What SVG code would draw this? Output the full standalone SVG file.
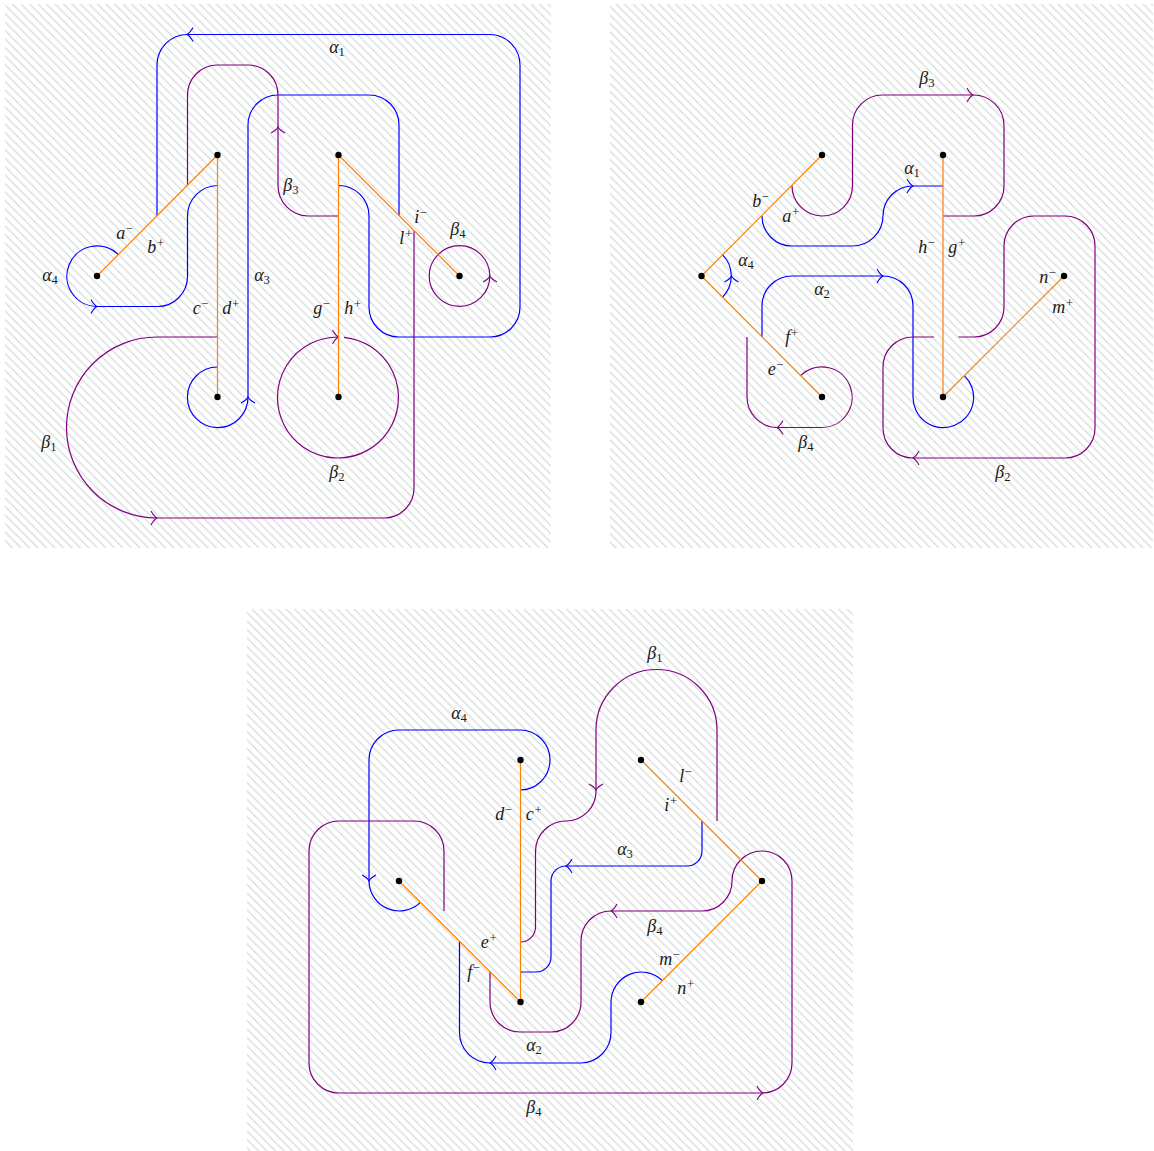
<svg xmlns="http://www.w3.org/2000/svg" width="1154" height="1151" viewBox="0 0 1154 1151">
<style>
.c{fill:none;stroke-width:1.2;stroke-linecap:butt}
.b{stroke:#0000ff}
.p{stroke:#800080}
.o{fill:none;stroke:#ff8000;stroke-width:1.2}
.d{fill:#000}
text{font-family:"Liberation Serif","Times New Roman",serif;font-style:italic;font-size:18px;fill:#1a1a1a;text-anchor:middle}
.s{font-size:12.6px}
.n{font-style:normal}
</style>
<defs>
<pattern id="h" patternUnits="userSpaceOnUse" width="8.500" height="8.500">
<path d="M-2,-2L10.500,10.500M-2,6.500L2,10.500M6.500,-2L10.500,2" stroke="#d6dada" stroke-width="1.2" fill="none"/>
</pattern>
<path id="a" d="M-6,-7Q-3,-1.500 0,0Q-3,1.500 -6,7" fill="none" stroke-width="1.1"/>
</defs>
<rect id="panel1" x="5" y="4" width="546" height="544" fill="url(#h)"/>
<rect id="panel2" x="610" y="4" width="543" height="544" fill="url(#h)"/>
<rect id="panel3" x="247" y="609" width="606" height="542" fill="url(#h)"/>
<g id="connectors">
<path class="c b" d="M157,216V65A30.5,30.5 0 0 1 187.5,34.500H490A30.500,30.500 0 0 1 520,65V307A30,30 0 0 1 490,337H399A30,30 0 0 1 369,307V216A30.500,30.500 0 0 0 338.500,185.500"/>
<use href="#a" class="b" transform="translate(187,34.500) rotate(180)"/>
<path class="c b" d="M118.400,254.600A30.300,30.300 0 1 0 97,306.500H157A30,30 0 0 0 187.500,276V216A30.500,30.500 0 0 1 217.500,185.500"/>
<use href="#a" class="b" transform="translate(97,306.500)"/>
<path class="c b" d="M217.500,367A30.300,30.300 0 1 0 248,397V125A30,30 0 0 1 278,95H369A30,30 0 0 1 399,125V216"/>
<use href="#a" class="b" transform="translate(248,397) rotate(-90)"/>
<path class="c p" d="M187.500,185.500V95A30,30 0 0 1 217.500,65H248A30,30 0 0 1 278,95V185.500A30.500,30.500 0 0 0 308,216H338.500"/>
<use href="#a" class="p" transform="translate(278,127) rotate(-90)"/>
<path class="c p" d="M217.500,337H157A90.500,90.500 0 0 0 157,518H384A30,30 0 0 0 414,488V231"/>
<use href="#a" class="p" transform="translate(157,518)"/>
<path class="c p" d="M344,337.300A60.500,60.500 0 1 1 338.500,337"/>
<use href="#a" class="p" transform="translate(338.500,337)"/>
<circle class="c p" cx="459.500" cy="276" r="30.300"/>
<use href="#a" class="p" transform="translate(490,276) rotate(-90)"/>
<path class="o" d="M97,276L217.500,155V397M338.500,397V155L459.500,276"/>

<path class="c p" d="M792,185.500A30,30 0 0 0 852.500,186V125A30,30 0 0 1 883,95H973A30.500,30.500 0 0 1 1004,125V186A30,30 0 0 1 974,216H943"/>
<use href="#a" class="p" transform="translate(973,95)"/>
<path class="c b" d="M762,216A30,30 0 0 0 792,246H852A30.500,30.500 0 0 0 883,216A30,30 0 0 1 913,186H943"/>
<use href="#a" class="b" transform="translate(913,186)"/>
<path class="c b" d="M722.400,254.600A30.300,30.300 0 0 1 722.400,297.400"/>
<use href="#a" class="b" transform="translate(731.500,276) rotate(-90)"/>
<path class="c b" d="M762,337V306A30,30 0 0 1 792,276H883A30,30 0 0 1 913,306V397A30.300,30.300 0 1 0 964.400,375.600"/>
<use href="#a" class="b" transform="translate(883,276)"/>
<path class="c p" d="M747,337V397A30.500,30.500 0 0 0 777,427.500H822A30.300,30.300 0 1 0 800.600,375.600"/>
<use href="#a" class="p" transform="translate(777,427.500) rotate(180)"/>
<path class="c p" d="M958.500,337H974A30,30 0 0 0 1004,307V246A30,30 0 0 1 1034,216H1065A30,30 0 0 1 1095,246V428A30,30 0 0 1 1065,458H913A30,30 0 0 1 883,428V367A30,30 0 0 1 913,337H934"/>
<use href="#a" class="p" transform="translate(913,458) rotate(180)"/>
<path class="o" d="M822,155L701.500,276L822,397M943,155V397L1064,276"/>

<path class="c b" d="M520,790A30,30 0 0 0 520,730H399A30,30 0 0 0 369,760V881A30.300,30.300 0 0 0 420.400,902.400"/>
<use href="#a" class="b" transform="translate(369,881) rotate(90)"/>
<path class="c p" d="M444,911V851A30,30 0 0 0 414,821H339A30,30 0 0 0 309,851V1063A30,30 0 0 0 339,1093H762A30,30 0 0 0 792,1063V881A30,30 0 0 0 732,881A30,30 0 0 1 702,911H611A30,30 0 0 0 581,941V1002A30,30 0 0 1 551,1032H520A30,30 0 0 1 490,1002V972"/>
<use href="#a" class="p" transform="translate(763,1093)"/>
<use href="#a" class="p" transform="translate(611,911) rotate(180)"/>
<path class="c p" d="M717,821V730A60.500,60.500 0 0 0 596,730V790A30,30 0 0 1 566,821A30.500,30.500 0 0 0 535.500,851V927A15,15 0 0 1 520.500,942"/>
<use href="#a" class="p" transform="translate(596,790) rotate(90)"/>
<path class="c b" d="M702,821V851A15,15 0 0 1 687,866H566A15,15 0 0 0 551,881V957A15,15 0 0 1 536,972H520.500"/>
<use href="#a" class="b" transform="translate(566,866) rotate(180)"/>
<path class="c b" d="M662.400,980.600A30.300,30.300 0 0 0 611,1002V1032A30.500,30.500 0 0 1 581,1063H490A30.500,30.500 0 0 1 459.500,1032V942"/>
<use href="#a" class="b" transform="translate(490,1063) rotate(180)"/>
<path class="o" d="M641,760L762,881L641,1002M520.500,760V1002L399,881"/>
</g>
<g id="nodes">
<g id="n1"><circle class="d" cx="97" cy="276" r="3.200"/></g>
<g id="n2"><circle class="d" cx="217.500" cy="155" r="3.200"/></g>
<g id="n3"><circle class="d" cx="338.500" cy="155" r="3.200"/></g>
<g id="n4"><circle class="d" cx="459.500" cy="276" r="3.200"/></g>
<g id="n5"><circle class="d" cx="217.500" cy="397" r="3.200"/></g>
<g id="n6"><circle class="d" cx="338.500" cy="397" r="3.200"/></g>
<g id="n7"><circle class="d" cx="822" cy="155" r="3.200"/></g>
<g id="n8"><circle class="d" cx="943" cy="155" r="3.200"/></g>
<g id="n9"><circle class="d" cx="701.500" cy="276" r="3.200"/></g>
<g id="n10"><circle class="d" cx="1064" cy="276" r="3.200"/></g>
<g id="n11"><circle class="d" cx="822" cy="397" r="3.200"/></g>
<g id="n12"><circle class="d" cx="943" cy="397" r="3.200"/></g>
<g id="n13"><circle class="d" cx="520.500" cy="760" r="3.200"/></g>
<g id="n14"><circle class="d" cx="641" cy="760" r="3.200"/></g>
<g id="n15"><circle class="d" cx="399" cy="881" r="3.200"/></g>
<g id="n16"><circle class="d" cx="762" cy="881" r="3.200"/></g>
<g id="n17"><circle class="d" cx="520.500" cy="1002" r="3.200"/></g>
<g id="n18"><circle class="d" cx="641" cy="1002" r="3.200"/></g>
</g>
<g id="labels">
<text x="337" y="53">α<tspan class="s n" dy="3">1</tspan></text>
<text x="291" y="191">β<tspan class="s n" dy="3">3</tspan></text>
<text x="125" y="239">a<tspan class="s" dy="-6">−</tspan></text>
<text x="156" y="253">b<tspan class="s" dy="-6">+</tspan></text>
<text x="50" y="281">α<tspan class="s n" dy="3">4</tspan></text>
<text x="262" y="281">α<tspan class="s n" dy="3">3</tspan></text>
<text x="201" y="314">c<tspan class="s" dy="-6">−</tspan></text>
<text x="231" y="314">d<tspan class="s" dy="-6">+</tspan></text>
<text x="49" y="448">β<tspan class="s n" dy="3">1</tspan></text>
<text x="322" y="314">g<tspan class="s" dy="-6">−</tspan></text>
<text x="353" y="314">h<tspan class="s" dy="-6">+</tspan></text>
<text x="421" y="223">i<tspan class="s" dy="-6">−</tspan></text>
<text x="406" y="244">l<tspan class="s" dy="-6">+</tspan></text>
<text x="458" y="235">β<tspan class="s n" dy="3">4</tspan></text>
<text x="337" y="478">β<tspan class="s n" dy="3">2</tspan></text>

<text x="927" y="84">β<tspan class="s n" dy="3">3</tspan></text>
<text x="912" y="174">α<tspan class="s n" dy="3">1</tspan></text>
<text x="761" y="207">b<tspan class="s" dy="-6">−</tspan></text>
<text x="791" y="222">a<tspan class="s" dy="-6">+</tspan></text>
<text x="746" y="266">α<tspan class="s n" dy="3">4</tspan></text>
<text x="927" y="253">h<tspan class="s" dy="-6">−</tspan></text>
<text x="957" y="253">g<tspan class="s" dy="-6">+</tspan></text>
<text x="1048" y="283">n<tspan class="s" dy="-6">−</tspan></text>
<text x="1063" y="313">m<tspan class="s" dy="-6">+</tspan></text>
<text x="822" y="295">α<tspan class="s n" dy="3">2</tspan></text>
<text x="792" y="343">f<tspan class="s" dy="-6">+</tspan></text>
<text x="776" y="375">e<tspan class="s" dy="-6">−</tspan></text>
<text x="806" y="448">β<tspan class="s n" dy="3">4</tspan></text>
<text x="1003" y="478">β<tspan class="s n" dy="3">2</tspan></text>

<text x="655" y="659">β<tspan class="s n" dy="3">1</tspan></text>
<text x="459" y="719">α<tspan class="s n" dy="3">4</tspan></text>
<text x="686" y="782">l<tspan class="s" dy="-6">−</tspan></text>
<text x="671" y="811">i<tspan class="s" dy="-6">+</tspan></text>
<text x="504" y="820">d<tspan class="s" dy="-6">−</tspan></text>
<text x="534" y="820">c<tspan class="s" dy="-6">+</tspan></text>
<text x="625" y="855">α<tspan class="s n" dy="3">3</tspan></text>
<text x="655" y="932">β<tspan class="s n" dy="3">4</tspan></text>
<text x="489" y="948">e<tspan class="s" dy="-6">+</tspan></text>
<text x="474" y="978">f<tspan class="s" dy="-6">−</tspan></text>
<text x="670" y="965">m<tspan class="s" dy="-6">−</tspan></text>
<text x="686" y="994">n<tspan class="s" dy="-6">+</tspan></text>
<text x="534" y="1051">α<tspan class="s n" dy="3">2</tspan></text>
<text x="534" y="1113">β<tspan class="s n" dy="3">4</tspan></text>
</g>
</svg>
